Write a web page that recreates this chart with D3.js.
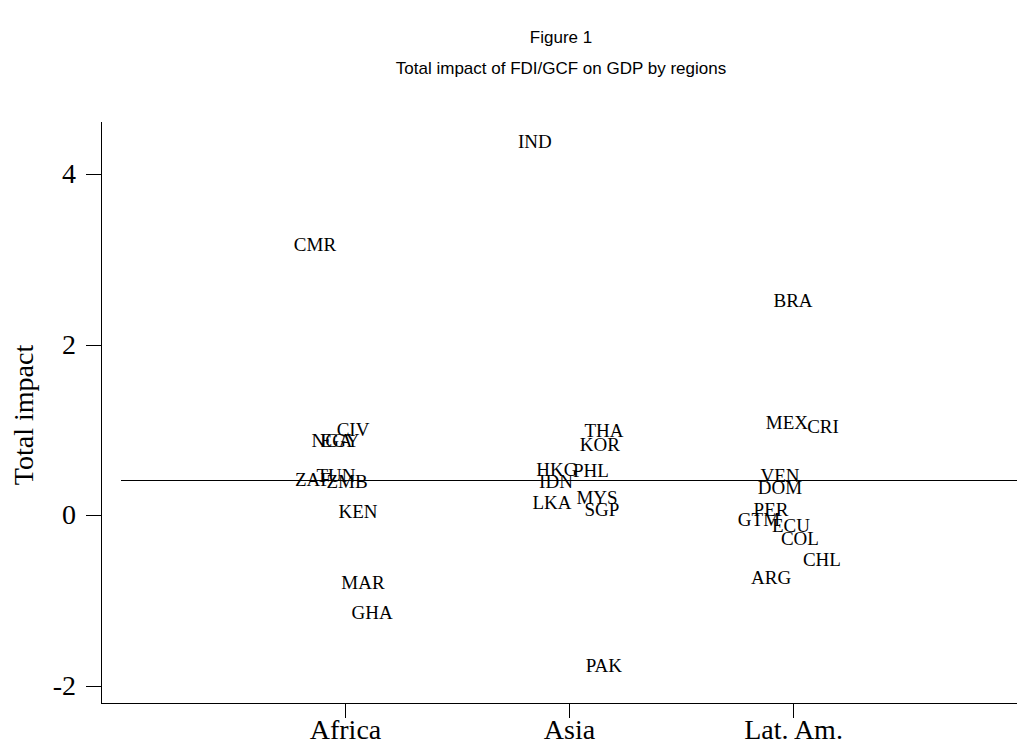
<!DOCTYPE html>
<html>
<head>
<meta charset="utf-8">
<script src="https://cdn.jsdelivr.net/npm/d3@7"></script>
<style>
  html, body { margin: 0; padding: 0; background: #fff; }
  svg { display: block; }
  line { shape-rendering: crispEdges; }
</style>
</head>
<body>
<svg id="chart" width="1025" height="744"></svg>
<script>
// ---- data ----
const regions = ["Africa", "Asia", "Lat. Am."];
const regionTicks = [1, 2, 3];
const yTicks = [-2, 0, 2, 4];
const countries = ["CMR","CIV","NGA","EGY","ZAF","TUN","ZMB","KEN","MAR","GHA",
                   "IND","THA","KOR","HKG","PHL","IDN","LKA","MYS","SGP","PAK",
                   "BRA","MEX","CRI","VEN","DOM","PER","GTM","ECU","COL","CHL","ARG"];
// jittered region position of each label
const xPos = [0.866, 1.036, 0.942, 0.978, 0.857, 0.960, 1.009, 1.058, 1.080, 1.121,
              1.848, 2.156, 2.138, 1.946, 2.098, 1.942, 1.924, 2.125, 2.147, 2.156,
              3.000, 2.973, 3.134, 2.942, 2.942, 2.902, 2.848, 2.991, 3.031, 3.129, 2.902];
// total impact
const impact = [3.17, 1.00, 0.87, 0.87, 0.41, 0.46, 0.39, 0.035, -0.80, -1.15,
                4.38, 0.985, 0.83, 0.53, 0.52, 0.39, 0.14, 0.20, 0.06, -1.77,
                2.51, 1.08, 1.03, 0.46, 0.32, 0.06, -0.06, -0.13, -0.28, -0.53, -0.73];
const meanImpact = 0.40;
const titleLines = ["Figure 1", "Total impact of FDI/GCF on GDP by regions"];
const yTitle = "Total impact";

// ---- layout ----
const svg = d3.select("#chart");
const serif = "'Liberation Serif', 'Times New Roman', Times, serif";
const sans = "'Liberation Sans', Arial, Helvetica, sans-serif";

const x = d3.scaleLinear().domain([0, 4]).range([121, 1017]);
const y = d3.scaleLinear().domain([0, 4]).range([515, 174]);

const plotLeft = 101, plotRight = 1017, plotTop = 122, plotBottom = 703;

// titles
svg.append("text").attr("x", 561).attr("y", 43)
  .attr("text-anchor", "middle").attr("font-family", sans).attr("font-size", 17)
  .text(titleLines[0]);
svg.append("text").attr("x", 561).attr("y", 74)
  .attr("text-anchor", "middle").attr("font-family", sans).attr("font-size", 17)
  .text(titleLines[1]);

// axis lines
svg.append("line").attr("x1", plotLeft).attr("x2", plotLeft)
  .attr("y1", plotTop).attr("y2", plotBottom).attr("stroke", "#000").attr("stroke-width", 1);
svg.append("line").attr("x1", plotLeft).attr("x2", plotRight)
  .attr("y1", plotBottom).attr("y2", plotBottom).attr("stroke", "#000").attr("stroke-width", 1);

// y axis
const yAxis = d3.axisLeft(y).tickValues(yTicks).tickSize(15).tickPadding(10)
  .tickFormat(d3.format("d"));
const gy = svg.append("g").attr("transform", `translate(${plotLeft},0)`).call(yAxis);
gy.select(".domain").remove();
gy.selectAll(".tick line").attr("stroke", "#000");
gy.selectAll(".tick text").attr("font-family", serif).attr("font-size", 28)
  .attr("fill", "#000").text(d => d < 0 ? "-" + Math.abs(d) : d);

// x axis
const xAxis = d3.axisBottom(x).tickValues(regionTicks).tickSize(15).tickPadding(4)
  .tickFormat((d, i) => regions[i]);
const gx = svg.append("g").attr("transform", `translate(0,${plotBottom})`).call(xAxis);
gx.select(".domain").remove();
gx.selectAll(".tick line").attr("stroke", "#000");
gx.selectAll(".tick text").attr("font-family", serif).attr("font-size", 28)
  .attr("fill", "#000").attr("dy", null).attr("y", 36);

// y title
svg.append("text").attr("transform", `translate(33,415) rotate(-90)`)
  .attr("text-anchor", "middle").attr("font-family", serif).attr("font-size", 28)
  .text(yTitle);

// mean line
svg.append("line").attr("x1", x(0)).attr("x2", x(4))
  .attr("y1", y(meanImpact)).attr("y2", y(meanImpact))
  .attr("stroke", "#000").attr("stroke-width", 1);

// labels
const data = countries.map((c, i) => ({ c, x: xPos[i], v: impact[i] }));
svg.append("g").selectAll("text").data(data).join("text")
  .attr("x", d => x(d.x)).attr("y", d => y(d.v)).attr("dy", "0.33em")
  .attr("text-anchor", "middle").attr("font-family", serif).attr("font-size", 19)
  .attr("fill", "#000").text(d => d.c);
</script>
</body>
</html>
